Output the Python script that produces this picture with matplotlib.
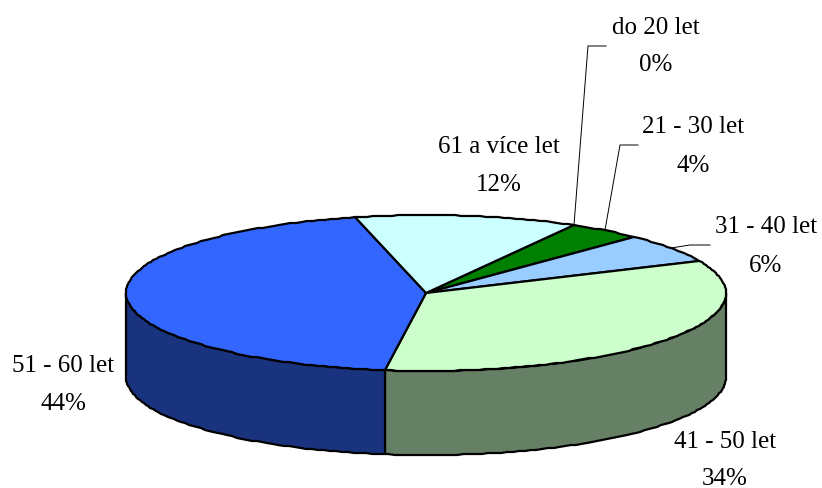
import numpy as np
import matplotlib
matplotlib.use("Agg")
import matplotlib.pyplot as plt

labels = ["do 20 let", "21 - 30 let", "31 - 40 let", "41 - 50 let", "51 - 60 let", "61 a více let"]
values = [0, 4, 6, 34, 44, 12]
top_colors = ["#CCFFFF", "#007F00", "#99CCFF", "#CCFFCC", "#3366FF", "#CCFFFF"]
side_colors = ["#668080", "#004000", "#4D6680", "#668066", "#1A337F", "#668080"]

# label centres in pixels
label_x = [656, 693, 766, 725, 63, 499]
label_y = [28, 127, 227, 442, 366, 147]
pct_y = [65, 166, 266, 479, 404, 185]

cx, cy = 426, 294
rx, ry = 300, 78
depth = 84
start = 29.5


def ell(a):
    # a in degrees clockwise from the top, snapped to whole pixels like the old renderer
    a = np.radians(a)
    x = cx + rx * np.sin(a)
    y = cy - ry * np.cos(a)
    return np.round(x), np.round(y)


fig = plt.figure(figsize=(8.22, 4.89), dpi=100)
ax = fig.add_axes([0, 0, 1, 1])
ax.set_xlim(0, 822)
ax.set_ylim(489, 0)
ax.axis("off")

edges = start + np.cumsum([0] + values) * 3.6

# side walls, only the front half of the ellipse shows
for i in range(len(values)):
    a0 = max(edges[i], 90)
    a1 = min(edges[i + 1], 270)
    if a1 <= a0:
        continue
    t = np.arange(a0, a1, 1.2)
    t = np.r_[t, a1]
    x, y = ell(t)
    xs = np.concatenate([x, x[::-1]])
    ys = np.concatenate([y, y[::-1] + depth])
    ax.fill(xs, ys, facecolor=side_colors[i], edgecolor="black", linewidth=1.6, joinstyle="round")

# top slices
for i in range(len(values)):
    if values[i] == 0:
        continue
    t = np.arange(edges[i], edges[i + 1], 1.2)
    t = np.r_[t, edges[i + 1]]
    x, y = ell(t)
    ax.fill(np.r_[cx, x], np.r_[cy, y], facecolor=top_colors[i], edgecolor="black",
            linewidth=1.6, joinstyle="round")

# leader lines
elbow_x = [588, 620, 690]
elbow_y = [47, 146, 246]
end_x = [606, 638, 710]
for i in range(3):
    sx, sy = ell((edges[i] + edges[i + 1]) / 2)
    ax.plot([sx, elbow_x[i], end_x[i]], [sy, elbow_y[i], elbow_y[i]], color="black", linewidth=0.7)

for i in range(len(labels)):
    ax.text(label_x[i], label_y[i], labels[i], family="Liberation Serif", fontsize=18,
            ha="center", va="center", color="black")
    ax.text(label_x[i], pct_y[i], "%d%%" % values[i], family="Liberation Serif", fontsize=18,
            ha="center", va="center", color="black")

fig.savefig("out.png", dpi=100)
